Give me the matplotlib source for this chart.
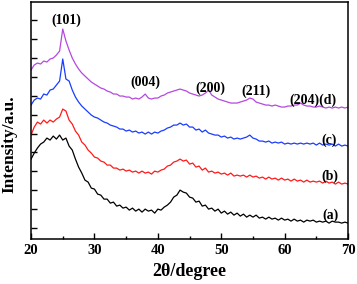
import numpy as np
import matplotlib
matplotlib.use("Agg")
import matplotlib.pyplot as plt
from matplotlib.ticker import MultipleLocator

# 2theta grid (degrees), 0.5 deg step
two_theta = np.linspace(20, 70, 101)

# intensities (a.u., offset stacked)
sample_a = [80, 86, 91, 95, 97, 101, 99, 103, 100, 104,
            99, 101, 93, 89, 80, 72, 66, 59, 57, 51,
            50, 45, 44, 40, 40, 36, 37, 33, 34, 31,
            32, 29, 31, 28, 30, 27, 30, 28, 29, 26,
            30, 29, 32, 34, 37, 42, 44, 49, 47, 46,
            42, 41, 37, 38, 33, 34, 30, 31, 28, 30,
            26, 28, 25, 27, 24, 26, 23, 25, 22, 24,
            22, 24, 21, 22, 20, 22, 20, 21, 19, 21,
            19, 20, 18, 20, 18, 19, 17, 19, 18, 19,
            17, 18, 17, 18, 16, 18, 17, 17, 16, 17, 16]
sample_b = [104, 112, 117, 115, 119, 116, 119, 117, 120, 122,
            130, 128, 119, 115, 108, 104, 97, 94, 89, 86,
            82, 81, 78, 77, 74, 74, 71, 71, 69, 70,
            68, 69, 67, 68, 66, 68, 66, 67, 65, 68,
            67, 69, 70, 73, 74, 77, 78, 80, 78, 79,
            75, 76, 72, 73, 69, 71, 67, 68, 66, 67,
            65, 66, 64, 66, 63, 64, 63, 64, 62, 64,
            62, 63, 61, 62, 60, 62, 60, 61, 59, 61,
            59, 60, 58, 60, 58, 59, 57, 59, 57, 58,
            57, 58, 56, 58, 56, 57, 55, 57, 55, 56, 55]
sample_c = [134, 139, 141, 140, 145, 144, 149, 150, 154, 158,
            180, 160, 158, 149, 142, 137, 133, 130, 127, 124,
            122, 121, 119, 117, 116, 114, 113, 112, 110, 110,
            108, 109, 107, 108, 106, 107, 105, 107, 105, 107,
            106, 108, 109, 111, 112, 114, 114, 116, 114, 115,
            112, 112, 109, 110, 107, 109, 106, 105, 104, 104,
            102, 103, 101, 102, 100, 101, 100, 101, 102, 104,
            101, 100, 98, 98, 97, 98, 96, 97, 96, 97,
            95, 96, 95, 96, 95, 96, 95, 96, 95, 96,
            94, 96, 94, 95, 94, 95, 93, 95, 93, 94, 93]
sample_d = [169, 174, 176, 175, 178, 177, 180, 181, 184, 188,
            210, 198, 189, 181, 175, 170, 166, 163, 160, 157,
            155, 153, 151, 150, 148, 147, 145, 145, 143, 143,
            142, 142, 140, 141, 140, 142, 145, 141, 140, 141,
            141, 143, 144, 146, 147, 148, 149, 150, 149, 148,
            146, 145, 144, 143, 144, 146, 149, 144, 142, 140,
            139, 138, 137, 136, 136, 136, 137, 138, 139, 141,
            140, 137, 136, 135, 134, 134, 133, 134, 133, 132,
            132, 133, 133, 134, 134, 136, 134, 133, 133, 132,
            132, 133, 132, 131, 132, 131, 132, 131, 132, 131, 132]

series = [sample_a, sample_b, sample_c, sample_d]
colors = ["#000000", "#ff1a1a", "#1a3cff", "#b448e0"]

# peak / curve labels: text, 2theta, height
labels = [("(101)", 25.6, 219), ("(004)", 38.1, 157), ("(200)", 48.3, 151),
          ("(211)", 55.4, 148), ("(204)(d)", 64.5, 139),
          ("(c)", 67.0, 99), ("(b)", 67.2, 63), ("(a)", 67.2, 24)]

plt.rcParams["font.family"] = ["Liberation Serif", "DejaVu Serif"]
plt.rcParams["font.weight"] = "bold"

fig = plt.figure(figsize=(3.57, 2.84), dpi=100)
ax = fig.add_axes([0.087, 0.158, 0.888, 0.835])

for s, c in zip(series, colors):
    ax.plot(two_theta, s, color=c, lw=0.9)

for txt, xx, yy in labels:
    ax.text(xx, yy, txt, fontsize=10, fontweight="bold", ha="center", va="center")

ax.set_xlim(20, 70)
ax.set_ylim(0, 237)
ax.xaxis.set_major_locator(MultipleLocator(10))
ax.xaxis.set_minor_locator(MultipleLocator(5))
ax.set_yticks(np.arange(11, 237, 18.9))
ax.set_yticklabels([])
ax.tick_params(direction="in", length=4, width=1, labelsize=10.5)
ax.tick_params(which="minor", direction="in", length=2.5, width=1)
for lab in ax.get_xticklabels():
    lab.set_fontweight("bold")
for sp in ax.spines.values():
    sp.set_linewidth(1.1)

ax.set_xlabel("2θ/degree", fontsize=13, fontweight="bold", labelpad=4)
fig.text(0.027, 0.492, "Intensity/a.u.", fontsize=12.5, fontweight="bold",
         rotation=90, ha="center", va="center")

fig.savefig("out.png", dpi=100)
